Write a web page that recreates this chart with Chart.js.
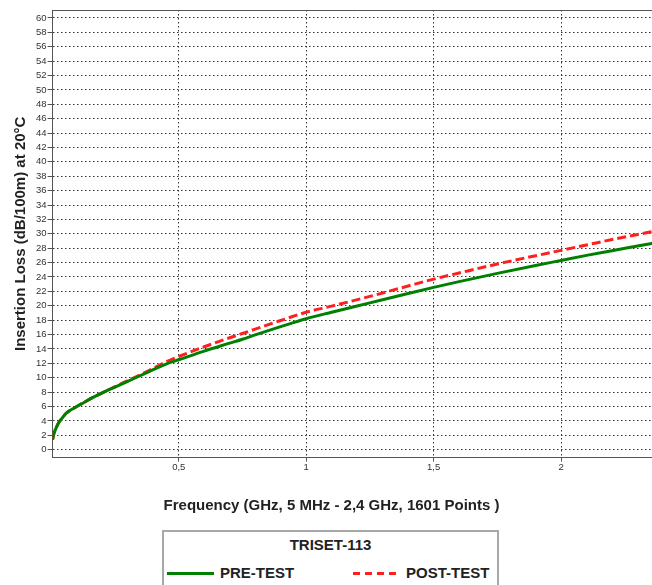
<!DOCTYPE html>
<html>
<head>
<meta charset="utf-8">
<title>Insertion Loss TRISET-113</title>
<script src="https://cdn.jsdelivr.net/npm/chart.js@4.4.1/dist/chart.umd.min.js"></script>
<style>
  html, body { margin: 0; padding: 0; background: #fff; overflow: hidden; width: 652px; height: 585px; }
  #wrap { position: relative; width: 663px; height: 600px; }
  #chart { position: absolute; left: 0; top: 0; }
  #legend {
    position: absolute; left: 162px; top: 530px; width: 333px; height: 70px;
    border: 2px solid #a8a8a8; background: #fff;
    font: bold 15px "Liberation Sans", Arial, sans-serif; color: #222;
  }
  #legend .title { position: absolute; left: 0; right: 0; top: 4px; line-height: 18px; text-align: center; }
  #legend .item { position: absolute; top: 32px; height: 18px; line-height: 18px; white-space: nowrap; }
  #legend .sample { position: absolute; left: 0; top: 8px; width: 47px; height: 3px; }
  #legend .label { position: absolute; left: 53px; top: 0; }
</style>
</head>
<body>
<div id="wrap">
  <canvas id="chart" width="663" height="515"></canvas>
  <div id="legend"><div class="title">TRISET-113</div></div>
</div>
<script>
// frequency in GHz, loss in dB/100m
const freqGHz  = [0.005, 0.01, 0.02, 0.03, 0.045, 0.06, 0.09, 0.12, 0.16, 0.2, 0.25, 0.3, 0.375, 0.45, 0.5,
                  0.6, 0.7, 0.75, 0.8, 0.9, 1.0, 1.1, 1.25, 1.4, 1.5, 1.6, 1.75, 1.9, 2.0, 2.1, 2.2, 2.3, 2.4];
const preTest  = [1.4, 2.2, 3.1, 3.8, 4.5, 5.1, 5.8, 6.4, 7.2, 7.9, 8.7, 9.5, 10.7, 11.9, 12.5,
                  13.7, 14.8, 15.35, 15.95, 17.1, 18.2, 19.1, 20.4, 21.7, 22.55, 23.35, 24.5, 25.6, 26.3, 27.0, 27.65, 28.3, 28.95];
const postTest = [1.4, 2.2, 3.1, 3.8, 4.5, 5.1, 5.8, 6.4, 7.2, 7.9, 8.75, 9.6, 10.85, 12.2, 12.95,
                  14.3, 15.55, 16.15, 16.75, 17.95, 19.1, 19.95, 21.3, 22.75, 23.7, 24.55, 25.8, 26.95, 27.7, 28.45, 29.2, 29.9, 30.6];

const seriesNames = ['PRE-TEST', 'POST-TEST'];
const legendTitle = 'TRISET-113';

const xTickValues = [0.5, 1, 1.5, 2];
const xTickLabels = ['0,5', '1', '1,5', '2'];
const yTickValues = [0, 2, 4, 6, 8, 10, 12, 14, 16, 18, 20, 22, 24, 26, 28, 30,
                     32, 34, 36, 38, 40, 42, 44, 46, 48, 50, 52, 54, 56, 58, 60];

const FONT = '"Liberation Sans", Arial, sans-serif';

function toPoints(values) {
  return freqGHz.map((f, i) => ({ x: f, y: values[i] }));
}

// thin line closing the plot frame on top
const topFrame = {
  id: 'topFrame',
  afterDraw(chart) {
    const { ctx, chartArea } = chart;
    ctx.save();
    ctx.strokeStyle = '#555';
    ctx.lineWidth = 1;
    ctx.beginPath();
    ctx.moveTo(chartArea.left, Math.round(chartArea.top) + 0.5);
    ctx.lineTo(chartArea.right, Math.round(chartArea.top) + 0.5);
    ctx.stroke();
    ctx.restore();
  }
};

const chart = new Chart(document.getElementById('chart'), {
  type: 'line',
  data: {
    datasets: [{
      label: seriesNames[0],
      data: toPoints(preTest),
      borderColor: '#008000',
      borderWidth: 3,
      pointRadius: 0,
      cubicInterpolationMode: 'monotone',
      fill: false
    }, {
      label: seriesNames[1],
      data: toPoints(postTest),
      borderColor: '#ff1f1f',
      borderWidth: 3,
      borderDash: [9, 4],
      pointRadius: 0,
      cubicInterpolationMode: 'monotone',
      fill: false
    }]
  },
  options: {
    responsive: false,
    animation: false,
    layout: { padding: { top: 10, left: 0, right: 0, bottom: 0 } },
    plugins: {
      legend: { display: false },
      tooltip: { enabled: false },
      title: {
        display: true,
        position: 'bottom',
        text: 'Frequency (GHz, 5 MHz - 2,4 GHz, 1601 Points )',
        color: '#222',
        font: { family: FONT, size: 15, weight: 'bold' },
        padding: { top: 24, bottom: 0 }
      }
    },
    scales: {
      x: {
        type: 'linear',
        min: 0.005,
        max: 2.4,
        afterBuildTicks: scale => { scale.ticks = xTickValues.map(v => ({ value: v })); },
        ticks: {
          callback: (value, index) => xTickLabels[index],
          color: '#333',
          font: { family: FONT, size: 9.5 },
          padding: 0,
          maxRotation: 0
        },
        grid: { color: '#333', lineWidth: 1, tickLength: 4, tickColor: '#555' },
        border: { color: '#555', width: 1, dash: [1.5, 2.5] }
      },
      y: {
        min: -1.1,
        max: 61.1,
        afterBuildTicks: scale => { scale.ticks = yTickValues.map(v => ({ value: v })); },
        ticks: {
          color: '#333',
          font: { family: FONT, size: 9.5 },
          padding: 1
        },
        grid: { color: '#333', lineWidth: 1, tickLength: 5, tickColor: '#555' },
        border: { color: '#555', width: 1, dash: [1.5, 2.5] },
        title: {
          display: true,
          text: 'Insertion Loss (dB/100m) at 20°C',
          color: '#222',
          font: { family: FONT, size: 15, weight: 'bold' },
          padding: { top: 12, bottom: 5 }
        }
      }
    }
  },
  plugins: [topFrame]
});

// legend box below the chart, built from the datasets
const legendEl = document.getElementById('legend');
legendEl.querySelector('.title').textContent = legendTitle;
chart.data.datasets.forEach((ds, i) => {
  const item = document.createElement('div');
  item.className = 'item';
  item.style.left = (3 + i * 186) + 'px';
  const sample = document.createElement('span');
  sample.className = 'sample';
  if (ds.borderDash) {
    sample.style.background = 'repeating-linear-gradient(to right, ' + ds.borderColor + ' 0 7px, transparent 7px 12px)';
  } else {
    sample.style.background = ds.borderColor;
  }
  const label = document.createElement('span');
  label.className = 'label';
  label.textContent = ds.label;
  item.appendChild(sample);
  item.appendChild(label);
  legendEl.appendChild(item);
});
</script>
</body>
</html>
